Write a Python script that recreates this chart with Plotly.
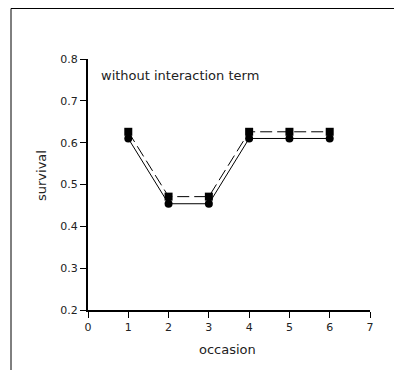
import plotly.graph_objects as go

occasion = [1, 2, 3, 4, 5, 6]
survival_circles = [0.610, 0.454, 0.454, 0.610, 0.610, 0.610]
survival_squares = [0.626, 0.471, 0.471, 0.626, 0.626, 0.626]
x_ticks = [0, 1, 2, 3, 4, 5, 6, 7]
y_ticks = [0.2, 0.3, 0.4, 0.5, 0.6, 0.7, 0.8]

W, H = 402, 370
OFF = 8  # page body margin offset
L, R, T, B = 88 - OFF, 370 - OFF, 59 - OFF, 310 - OFF

fig = go.Figure()
fig.add_trace(go.Scatter(
    x=occasion, y=survival_squares, mode="lines+markers",
    line=dict(color="black", width=1, dash="12px,5px"),
    marker=dict(symbol="square", size=8, color="black"),
    showlegend=False))
fig.add_trace(go.Scatter(
    x=occasion, y=survival_circles, mode="lines+markers",
    line=dict(color="black", width=1),
    marker=dict(symbol="circle", size=8, color="black"),
    showlegend=False))

FAM = "DejaVu Sans, sans-serif"
font = dict(family=FAM, size=11, color="#222")
tfont = dict(family=FAM, size=13, color="#222")

fig.update_layout(
    width=W, height=H,
    margin=dict(l=0, r=0, t=0, b=0),
    paper_bgcolor="white", plot_bgcolor="white",
    font=font,
    xaxis=dict(domain=[L / W, R / W], range=[0, 7], tickvals=x_ticks,
               automargin=False,
               showgrid=False, zeroline=False, showline=True, linecolor="black",
               linewidth=2, ticks="outside", ticklen=6, tickwidth=1, tickcolor="black",
               tickfont=font),
    yaxis=dict(domain=[1 - B / H, 1 - T / H], range=[0.2, 0.8], tickvals=y_ticks,
               tickformat=".1f", automargin=False,
               showgrid=False, zeroline=False, showline=True, linecolor="black",
               linewidth=2, ticks="outside", ticklen=6, tickwidth=1, tickcolor="black",
               tickfont=font),
    shapes=[dict(type="path", xref="paper", yref="paper",
                 path=f"M {(11-OFF)/W} 0 L {(11-OFF)/W} {1-(8-OFF+0.5)/H} L 1 {1-(8-OFF+0.5)/H}",
                 line=dict(color="black", width=1))],
    annotations=[
        dict(text="without interaction term", xref="paper", yref="paper",
             x=(99 - OFF) / W, y=1 - (75 - OFF) / H, xanchor="left", yanchor="middle",
             showarrow=False, font=tfont),
        dict(text="survival", xref="paper", yref="paper",
             x=(41 - OFF) / W, y=1 - (176 - OFF) / H, xanchor="center", yanchor="middle",
             textangle=-90, showarrow=False, font=tfont),
        dict(text="occasion", xref="paper", yref="paper",
             x=(228 - OFF) / W, y=1 - (349 - OFF) / H, xanchor="center", yanchor="middle",
             showarrow=False, font=tfont),
    ],
)

fig.write_html("out.html")
